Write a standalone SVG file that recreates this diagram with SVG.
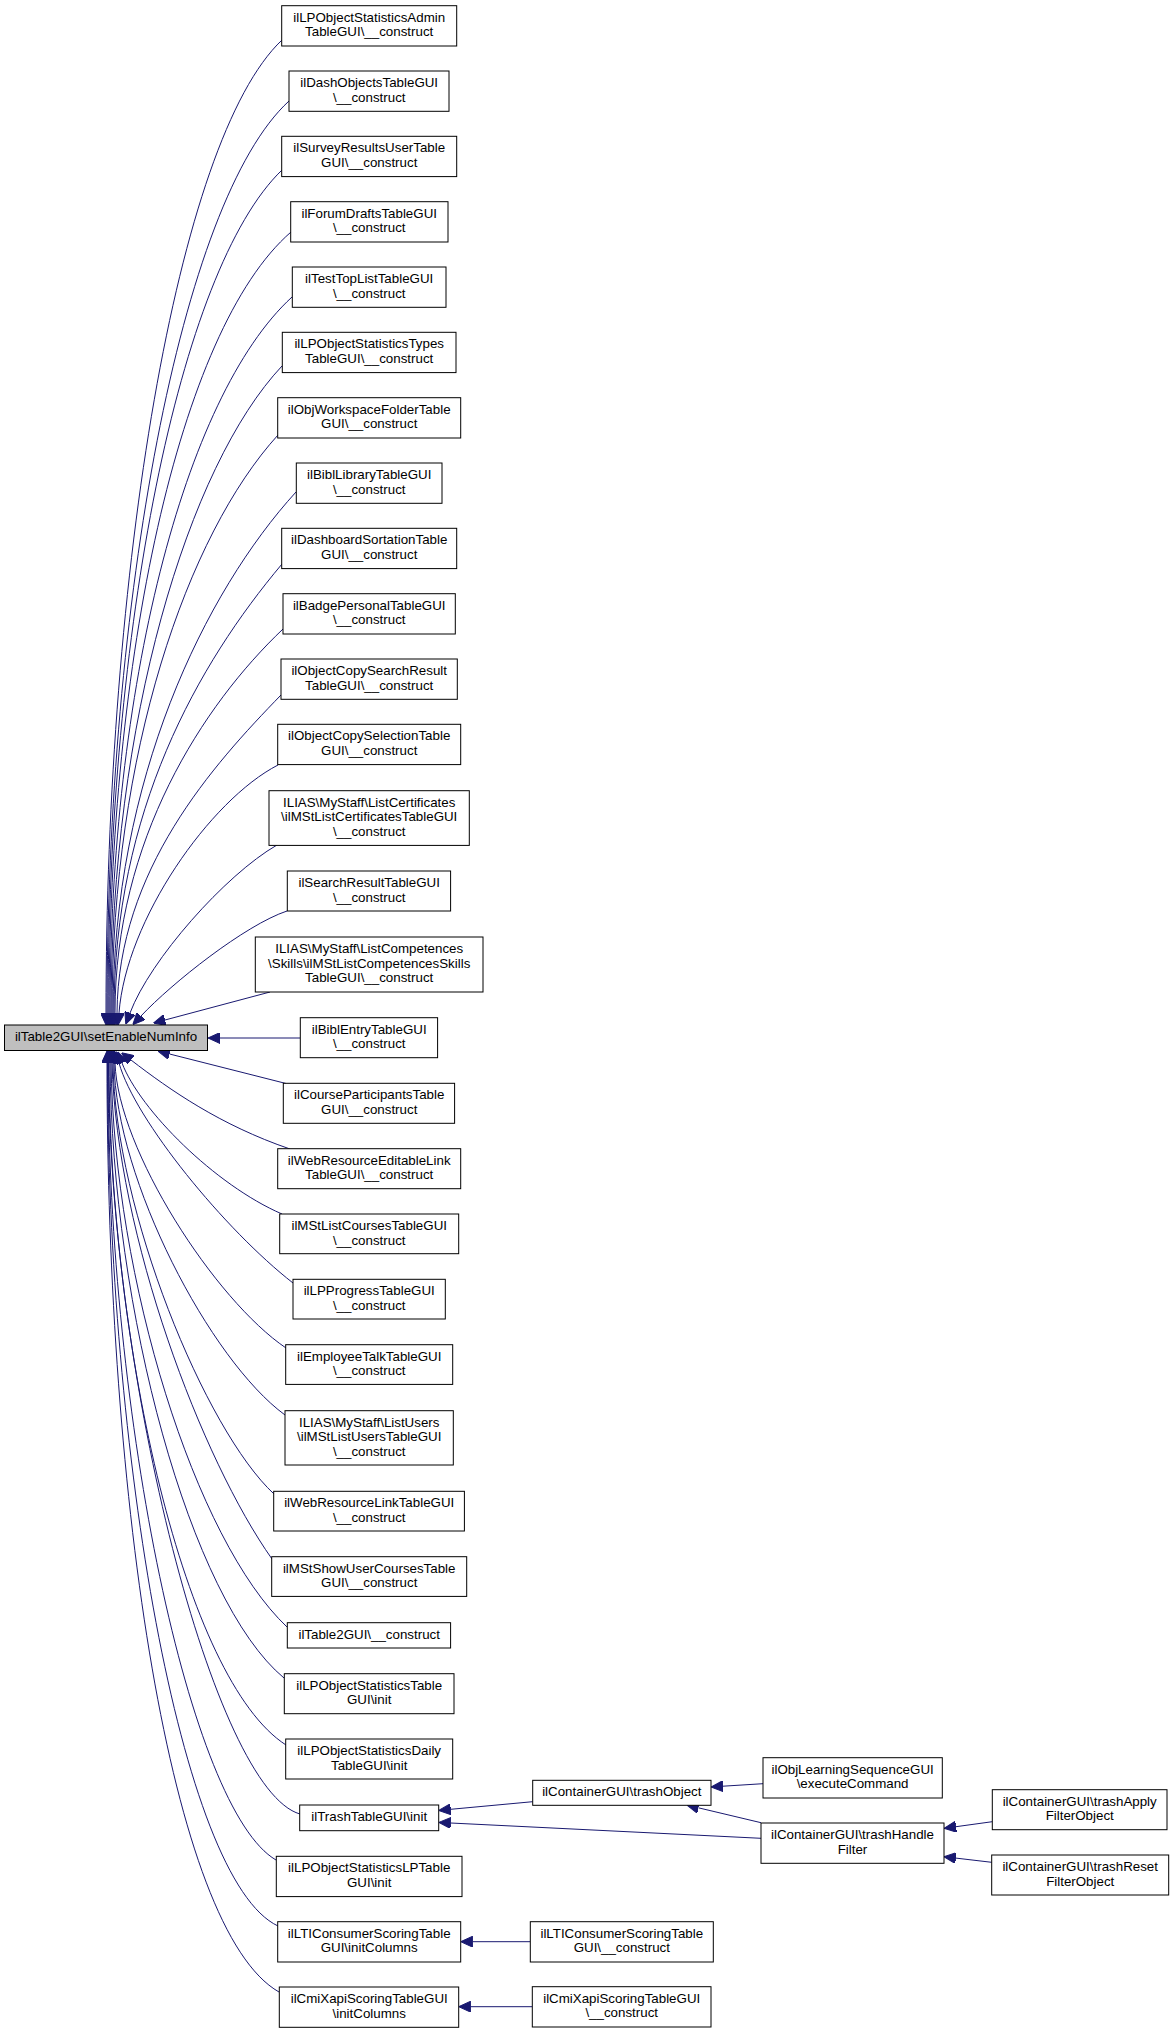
<svg xmlns="http://www.w3.org/2000/svg" width="1173" height="2033" viewBox="0 0 1173 2033">
<style>
.n rect{fill:#ffffff;stroke:#000000;stroke-width:1}
.m rect{fill:#bfbfbf;stroke:#000000;stroke-width:1}
text{font-family:"Liberation Sans",Arial,Helvetica,sans-serif;font-size:13.33px;fill:#000000;text-anchor:middle}
.e path{fill:none;stroke:#191970;stroke-width:1;marker-end:url(#ah)}
</style>
<defs>
<marker id="ah" viewBox="0 0 12 11" refX="0" refY="5.5" markerUnits="userSpaceOnUse" markerWidth="12" markerHeight="11" orient="auto">
<path d="M0,0 L12,5.5 L0,11 z" fill="#191970" stroke="#191970" stroke-width="1"/>
</marker>
</defs>
<rect x="0" y="0" width="1173" height="2033" fill="#ffffff"/>
<g id="edges" class="e">
<path d="M282,40 C176,140 106,575 106,1013"/>
<path d="M289,101 C180,201 107,603 107,1013"/>
<path d="M282,170 C178,270 108,634 108,1013"/>
<path d="M291,232 C178,330 109,662 109,1013"/>
<path d="M292,297 C183,397 110,691 110,1013"/>
<path d="M282,366 C188,466 111,722 111,1013"/>
<path d="M278,435 C187,535 112,753 112,1013"/>
<path d="M296,492 C205,592 113,779 113,1013"/>
<path d="M282,564 C198,664 114,811 114,1013"/>
<path d="M283,629 C203,705 115,840 115,1013"/>
<path d="M281,695 C213,765 118,870 117,1013"/>
<path d="M278,765 C210,800 126,920 119,1013"/>
<path d="M277,845 C225,875 150,960 130,1013"/>
<path d="M287,911 C245,925 172,983 141,1016"/>
<path d="M270,992 L165,1020"/>
<path d="M300,1038 L220,1038"/>
<path d="M286,1083.5 L169.6,1054"/>
<path d="M290,1149 C220,1125 170,1090 131,1060"/>
<path d="M282,1214 C215,1185 140,1110 122,1063"/>
<path d="M293,1283 C225,1230 135,1120 119,1063"/>
<path d="M286,1348 C215,1300 118,1150 115,1063"/>
<path d="M285,1415 C210,1360 116,1180 114,1063"/>
<path d="M274,1494 C205,1430 115,1210 113,1063"/>
<path d="M272,1559 C202,1460 117,1237 112,1063"/>
<path d="M287,1627 C195,1540 114,1280 111,1063"/>
<path d="M284,1678 C190,1600 112,1310 110,1063"/>
<path d="M286,1745 C185,1680 110,1350 109,1063"/>
<path d="M300,1814 C215,1790 109,1380 108.5,1063"/>
<path d="M276,1860 C190,1810 108,1420 108,1063"/>
<path d="M278,1926 C180,1880 107.5,1450 107.5,1063"/>
<path d="M279,1992 C170,1930 107,1500 107,1063"/>
<path d="M532.7,1801.7 L450.7,1809.3"/>
<path d="M761,1838.3 L450.7,1823"/>
<path d="M761,1822.7 L698.4,1807.8"/>
<path d="M763,1783.7 L723,1786.2"/>
<path d="M992.3,1821.7 L956,1826.7"/>
<path d="M991.7,1862.3 L955.9,1858.1"/>
<path d="M530.3,1941.7 L472.7,1941.7"/>
<path d="M532.3,2006.7 L470.7,2006.7"/>
</g>
<g id="main" class="m"><rect x="4.5" y="1025" width="203" height="25.5"/><text x="106" y="1041">ilTable2GUI\setEnableNumInfo</text></g>
<g id="n1" class="n"><rect x="281.7" y="5.7" width="175" height="40.3"/><text x="369.2" y="21.7">ilLPObjectStatisticsAdmin</text><text x="369.2" y="36.4">TableGUI\__construct</text></g>
<g id="n2" class="n"><rect x="289" y="71" width="160" height="40.3"/><text x="369.2" y="87">ilDashObjectsTableGUI</text><text x="369.2" y="101.7">\__construct</text></g>
<g id="n3" class="n"><rect x="281.7" y="136.3" width="175" height="40.3"/><text x="369.2" y="152.3">ilSurveyResultsUserTable</text><text x="369.2" y="167">GUI\__construct</text></g>
<g id="n4" class="n"><rect x="290.7" y="201.7" width="157.3" height="40.3"/><text x="369.2" y="217.7">ilForumDraftsTableGUI</text><text x="369.2" y="232.4">\__construct</text></g>
<g id="n5" class="n"><rect x="292.3" y="267" width="153.7" height="40.3"/><text x="369.2" y="283">ilTestTopListTableGUI</text><text x="369.2" y="297.7">\__construct</text></g>
<g id="n6" class="n"><rect x="282.3" y="332.3" width="173.7" height="40.3"/><text x="369.2" y="348.3">ilLPObjectStatisticsTypes</text><text x="369.2" y="363">TableGUI\__construct</text></g>
<g id="n7" class="n"><rect x="277.7" y="397.7" width="183" height="40.3"/><text x="369.2" y="413.7">ilObjWorkspaceFolderTable</text><text x="369.2" y="428.4">GUI\__construct</text></g>
<g id="n8" class="n"><rect x="296.3" y="463" width="145.7" height="40.3"/><text x="369.2" y="479">ilBiblLibraryTableGUI</text><text x="369.2" y="493.7">\__construct</text></g>
<g id="n9" class="n"><rect x="281.7" y="528.3" width="175" height="40.3"/><text x="369.2" y="544.3">ilDashboardSortationTable</text><text x="369.2" y="559">GUI\__construct</text></g>
<g id="n10" class="n"><rect x="283" y="593.7" width="172.3" height="40.3"/><text x="369.2" y="609.7">ilBadgePersonalTableGUI</text><text x="369.2" y="624.4">\__construct</text></g>
<g id="n11" class="n"><rect x="281" y="659" width="176.3" height="40.3"/><text x="369.2" y="675">ilObjectCopySearchResult</text><text x="369.2" y="689.7">TableGUI\__construct</text></g>
<g id="n12" class="n"><rect x="277.7" y="724.3" width="183" height="40.3"/><text x="369.2" y="740.3">ilObjectCopySelectionTable</text><text x="369.2" y="755">GUI\__construct</text></g>
<g id="n13" class="n"><rect x="269" y="790.7" width="200.3" height="54.7"/><text x="369.2" y="806.7">ILIAS\MyStaff\ListCertificates</text><text x="369.2" y="821.4">\ilMStListCertificatesTableGUI</text><text x="369.2" y="836.1">\__construct</text></g>
<g id="n14" class="n"><rect x="287.3" y="871" width="163.3" height="40"/><text x="369.2" y="887">ilSearchResultTableGUI</text><text x="369.2" y="901.7">\__construct</text></g>
<g id="n15" class="n"><rect x="255.3" y="937" width="227.7" height="55"/><text x="369.2" y="953">ILIAS\MyStaff\ListCompetences</text><text x="369.2" y="967.7">\Skills\ilMStListCompetencesSkills</text><text x="369.2" y="982.4">TableGUI\__construct</text></g>
<g id="n16" class="n"><rect x="300.3" y="1017.7" width="137.3" height="40"/><text x="369.2" y="1033.7">ilBiblEntryTableGUI</text><text x="369.2" y="1048.4">\__construct</text></g>
<g id="n17" class="n"><rect x="283.3" y="1083.3" width="171.3" height="40"/><text x="369.2" y="1099.3">ilCourseParticipantsTable</text><text x="369.2" y="1114">GUI\__construct</text></g>
<g id="n18" class="n"><rect x="277.7" y="1148.7" width="183" height="40"/><text x="369.2" y="1164.7">ilWebResourceEditableLink</text><text x="369.2" y="1179.4">TableGUI\__construct</text></g>
<g id="n19" class="n"><rect x="279.7" y="1214" width="179" height="39.7"/><text x="369.2" y="1230">ilMStListCoursesTableGUI</text><text x="369.2" y="1244.7">\__construct</text></g>
<g id="n20" class="n"><rect x="293" y="1279.3" width="152.3" height="39.7"/><text x="369.2" y="1295.3">ilLPProgressTableGUI</text><text x="369.2" y="1310">\__construct</text></g>
<g id="n21" class="n"><rect x="285.7" y="1344.7" width="167" height="39.7"/><text x="369.2" y="1360.7">ilEmployeeTalkTableGUI</text><text x="369.2" y="1375.4">\__construct</text></g>
<g id="n22" class="n"><rect x="285" y="1410.7" width="168.3" height="54.3"/><text x="369.2" y="1426.7">ILIAS\MyStaff\ListUsers</text><text x="369.2" y="1441.4">\ilMStListUsersTableGUI</text><text x="369.2" y="1456.1">\__construct</text></g>
<g id="n23" class="n"><rect x="273.7" y="1491.3" width="190.7" height="39.7"/><text x="369.2" y="1507.3">ilWebResourceLinkTableGUI</text><text x="369.2" y="1522">\__construct</text></g>
<g id="n24" class="n"><rect x="271.7" y="1556.7" width="195" height="39.7"/><text x="369.2" y="1572.7">ilMStShowUserCoursesTable</text><text x="369.2" y="1587.4">GUI\__construct</text></g>
<g id="n25" class="n"><rect x="287.3" y="1622.7" width="163.3" height="25.3"/><text x="369.2" y="1638.7">ilTable2GUI\__construct</text></g>
<g id="n26" class="n"><rect x="284.3" y="1673.7" width="169.7" height="40"/><text x="369.2" y="1689.7">ilLPObjectStatisticsTable</text><text x="369.2" y="1704.4">GUI\init</text></g>
<g id="n27" class="n"><rect x="285.7" y="1739" width="167" height="40"/><text x="369.2" y="1755">ilLPObjectStatisticsDaily</text><text x="369.2" y="1769.7">TableGUI\init</text></g>
<g id="n28" class="n"><rect x="299.7" y="1805" width="139" height="25.7"/><text x="369.2" y="1821">ilTrashTableGUI\init</text></g>
<g id="n29" class="n"><rect x="276.3" y="1856.3" width="185.7" height="40.3"/><text x="369.2" y="1872.3">ilLPObjectStatisticsLPTable</text><text x="369.2" y="1887">GUI\init</text></g>
<g id="n30" class="n"><rect x="277.7" y="1921.7" width="183" height="40.3"/><text x="369.2" y="1937.7">ilLTIConsumerScoringTable</text><text x="369.2" y="1952.4">GUI\initColumns</text></g>
<g id="n31" class="n"><rect x="279.3" y="1987" width="179.4" height="40.3"/><text x="369.2" y="2003">ilCmiXapiScoringTableGUI</text><text x="369.2" y="2017.7">\initColumns</text></g>
<g id="n32" class="n"><rect x="532.7" y="1780.3" width="178.3" height="25"/><text x="621.8" y="1796.3">ilContainerGUI\trashObject</text></g>
<g id="n33" class="n"><rect x="763" y="1757.7" width="179.3" height="40.3"/><text x="852.6" y="1773.7">ilObjLearningSequenceGUI</text><text x="852.6" y="1788.4">\executeCommand</text></g>
<g id="n34" class="n"><rect x="761" y="1823" width="183" height="40.3"/><text x="852.5" y="1839">ilContainerGUI\trashHandle</text><text x="852.5" y="1853.7">Filter</text></g>
<g id="n35" class="n"><rect x="992.3" y="1789.7" width="174.7" height="40"/><text x="1079.7" y="1805.7">ilContainerGUI\trashApply</text><text x="1079.7" y="1820.4">FilterObject</text></g>
<g id="n36" class="n"><rect x="991.7" y="1855" width="177" height="40"/><text x="1080.2" y="1871">ilContainerGUI\trashReset</text><text x="1080.2" y="1885.7">FilterObject</text></g>
<g id="n37" class="n"><rect x="530.3" y="1921.7" width="183" height="40.3"/><text x="621.8" y="1937.7">ilLTIConsumerScoringTable</text><text x="621.8" y="1952.4">GUI\__construct</text></g>
<g id="n38" class="n"><rect x="532.3" y="1986.7" width="178.7" height="40.3"/><text x="621.7" y="2002.7">ilCmiXapiScoringTableGUI</text><text x="621.7" y="2017.4">\__construct</text></g>
</svg>
